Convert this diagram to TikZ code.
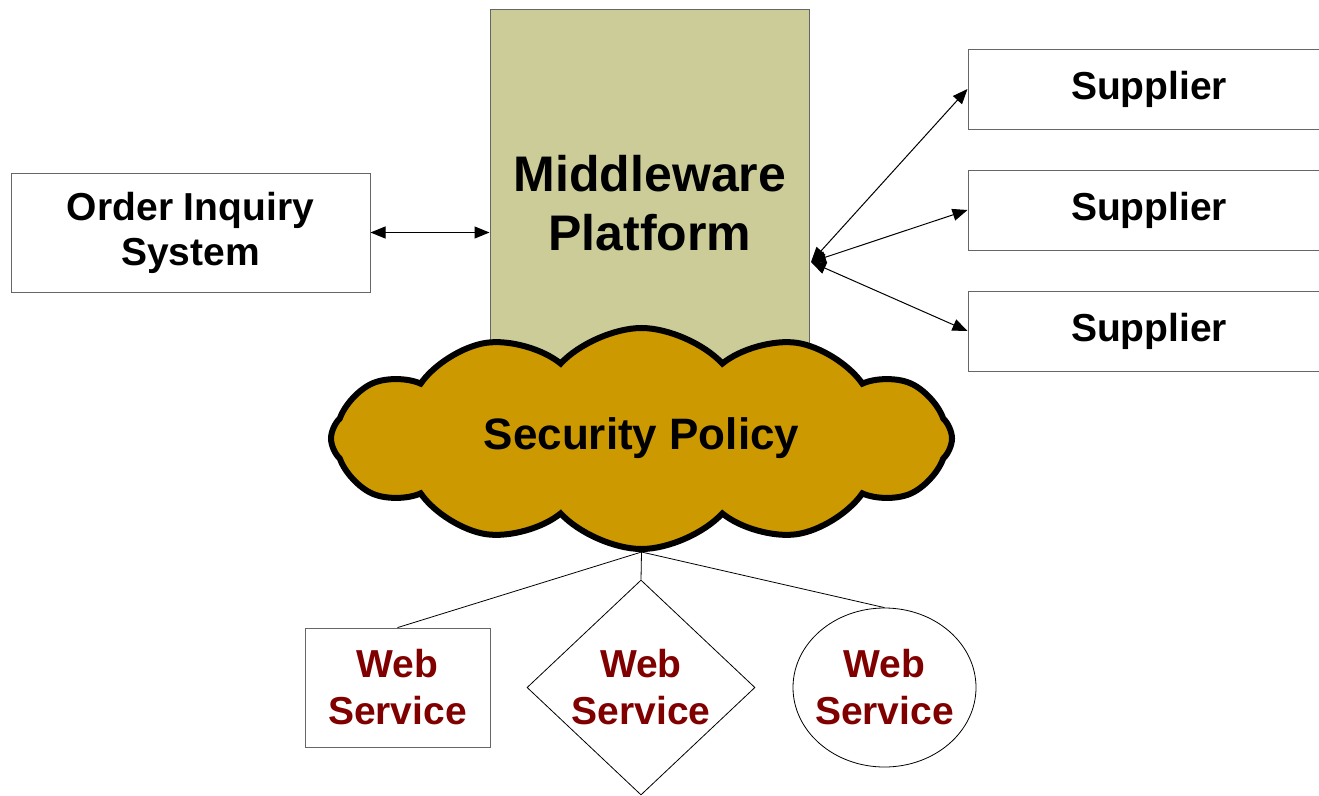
\documentclass[tikz,border=0pt]{standalone}
\usepackage{fontspec}
\setmainfont{Liberation Sans}
\usetikzlibrary{positioning,arrows.meta,shapes.geometric,shapes.symbols}
\definecolor{mwolive}{RGB}{204,204,153}
\definecolor{policygold}{RGB}{204,153,0}
\definecolor{wsred}{RGB}{128,0,0}

\begin{document}
\begin{tikzpicture}[
  x=1pt, y=-1pt,
  >={Triangle[length=15pt,width=12pt]},
  node distance=40pt,
  sysbox/.style={rectangle, draw=gray!80!black, fill=white, line width=1pt, align=center, font=\bfseries\fontsize{39}{45}\selectfont, inner sep=0pt},
  mwbox/.style={rectangle, draw=gray!80!black, fill=mwolive, line width=1pt, minimum width=319pt, minimum height=350pt},
  policy/.style={cloud, cloud puffs=12, cloud puff arc=95, aspect=2.8, draw=black, fill=policygold, line width=6pt, inner sep=0pt, minimum width=621pt, minimum height=221pt, font=\bfseries\fontsize{44}{50}\selectfont},
  ws/.style={draw=black, fill=white, line width=0.8pt, align=center, text=wsred, font=\bfseries\fontsize{39}{47}\selectfont, inner sep=0pt},
  link/.style={line width=1pt, <->}
]
\useasboundingbox (0,0) rectangle (1319,795);

\node[sysbox, minimum width=359pt, minimum height=119pt] (order) at (190.5,232.5) {\raisebox{-3pt}{\parbox{300pt}{\centering Order Inquiry\\System}}};
\node[mwbox] (mw) at (649.5,184) {};
\node[font=\bfseries\fontsize{50}{59}\selectfont, align=center] (mwlabel) at (650,203) {Middleware\\Platform};

\node[sysbox, minimum width=362pt, minimum height=80pt] (sup1) at (1149,89) {\raisebox{-2pt}{Supplier}};
\node[sysbox, minimum width=362pt, minimum height=80pt, below=of sup1] (sup2) {\raisebox{-2pt}{Supplier}};
\node[sysbox, minimum width=362pt, minimum height=80pt, below=of sup2] (sup3) {\raisebox{-2pt}{Supplier}};

\node[policy] (sec) at (641.5,438.5) {\raisebox{-4pt}{Security Policy}};

\node[ws, rectangle, draw=gray!80!black, minimum width=185pt, minimum height=119pt] (ws1) at (397.5,687.5) {Web\\Service};
\node[ws, diamond, aspect=1.06, minimum width=228pt, minimum height=215pt] (ws2) at (641,687.5) {Web\\Service};
\node[ws, ellipse, inner xsep=-5pt, minimum width=183pt, minimum height=159pt] (ws3) at (884.5,687.5) {Web\\Service};

\coordinate (hub) at (811,262);

\draw[link] (order.east) -- (mw.west |- order.east);
\draw[link] (hub) -- (sup1.west);
\draw[link] (hub) -- (sup2.west);
\draw[link] (hub) -- (sup3.west);
\draw[line width=0.8pt] (sec.south) -- (ws1.north);
\draw[line width=0.8pt] (sec.south) -- (ws2.north);
\draw[line width=0.8pt] (sec.south) -- (ws3.north);
\end{tikzpicture}
\end{document}
